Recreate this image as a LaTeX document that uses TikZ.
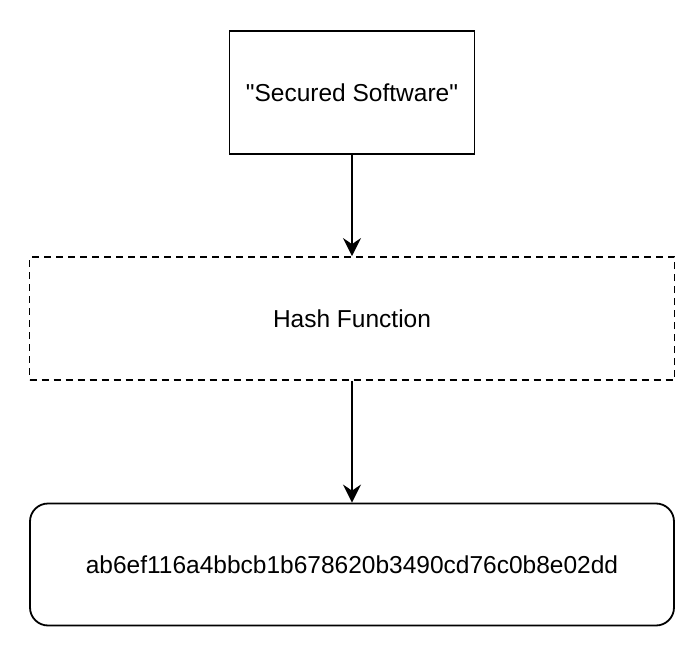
\documentclass[tikz,border=0pt]{standalone}
\usepackage{fontspec}
\newfontfamily\hfont{Liberation Sans}
\usetikzlibrary{arrows.meta}
\begin{document}
\begin{tikzpicture}[x=1pt,y=-1pt,
  box/.style={draw=black,line width=1.8pt,minimum width=#1,inner sep=0pt,font=\hfont\fontsize{24.5}{29}\selectfont},
  conn/.style={line width=1.8pt,-{Stealth[length=18pt,width=18pt,inset=6pt]}}]
\useasboundingbox (0,0) rectangle (689,645);
\node[box=245pt,minimum height=123pt] (src) at (352,92.5) {"Secured Software"};
\node[box=645pt,minimum height=123pt,dash pattern=on 7pt off 5pt] (hash) at (352,318.5) {Hash Function};
\node[box=644pt,minimum height=122pt,rounded corners=18pt] (out) at (352,564.5) {ab6ef116a4bbcb1b678620b3490cd76c0b8e02dd};
\draw[conn] (src.south) -- (hash.north);
\draw[conn] (hash.south) -- (out.north);
\end{tikzpicture}
\end{document}
